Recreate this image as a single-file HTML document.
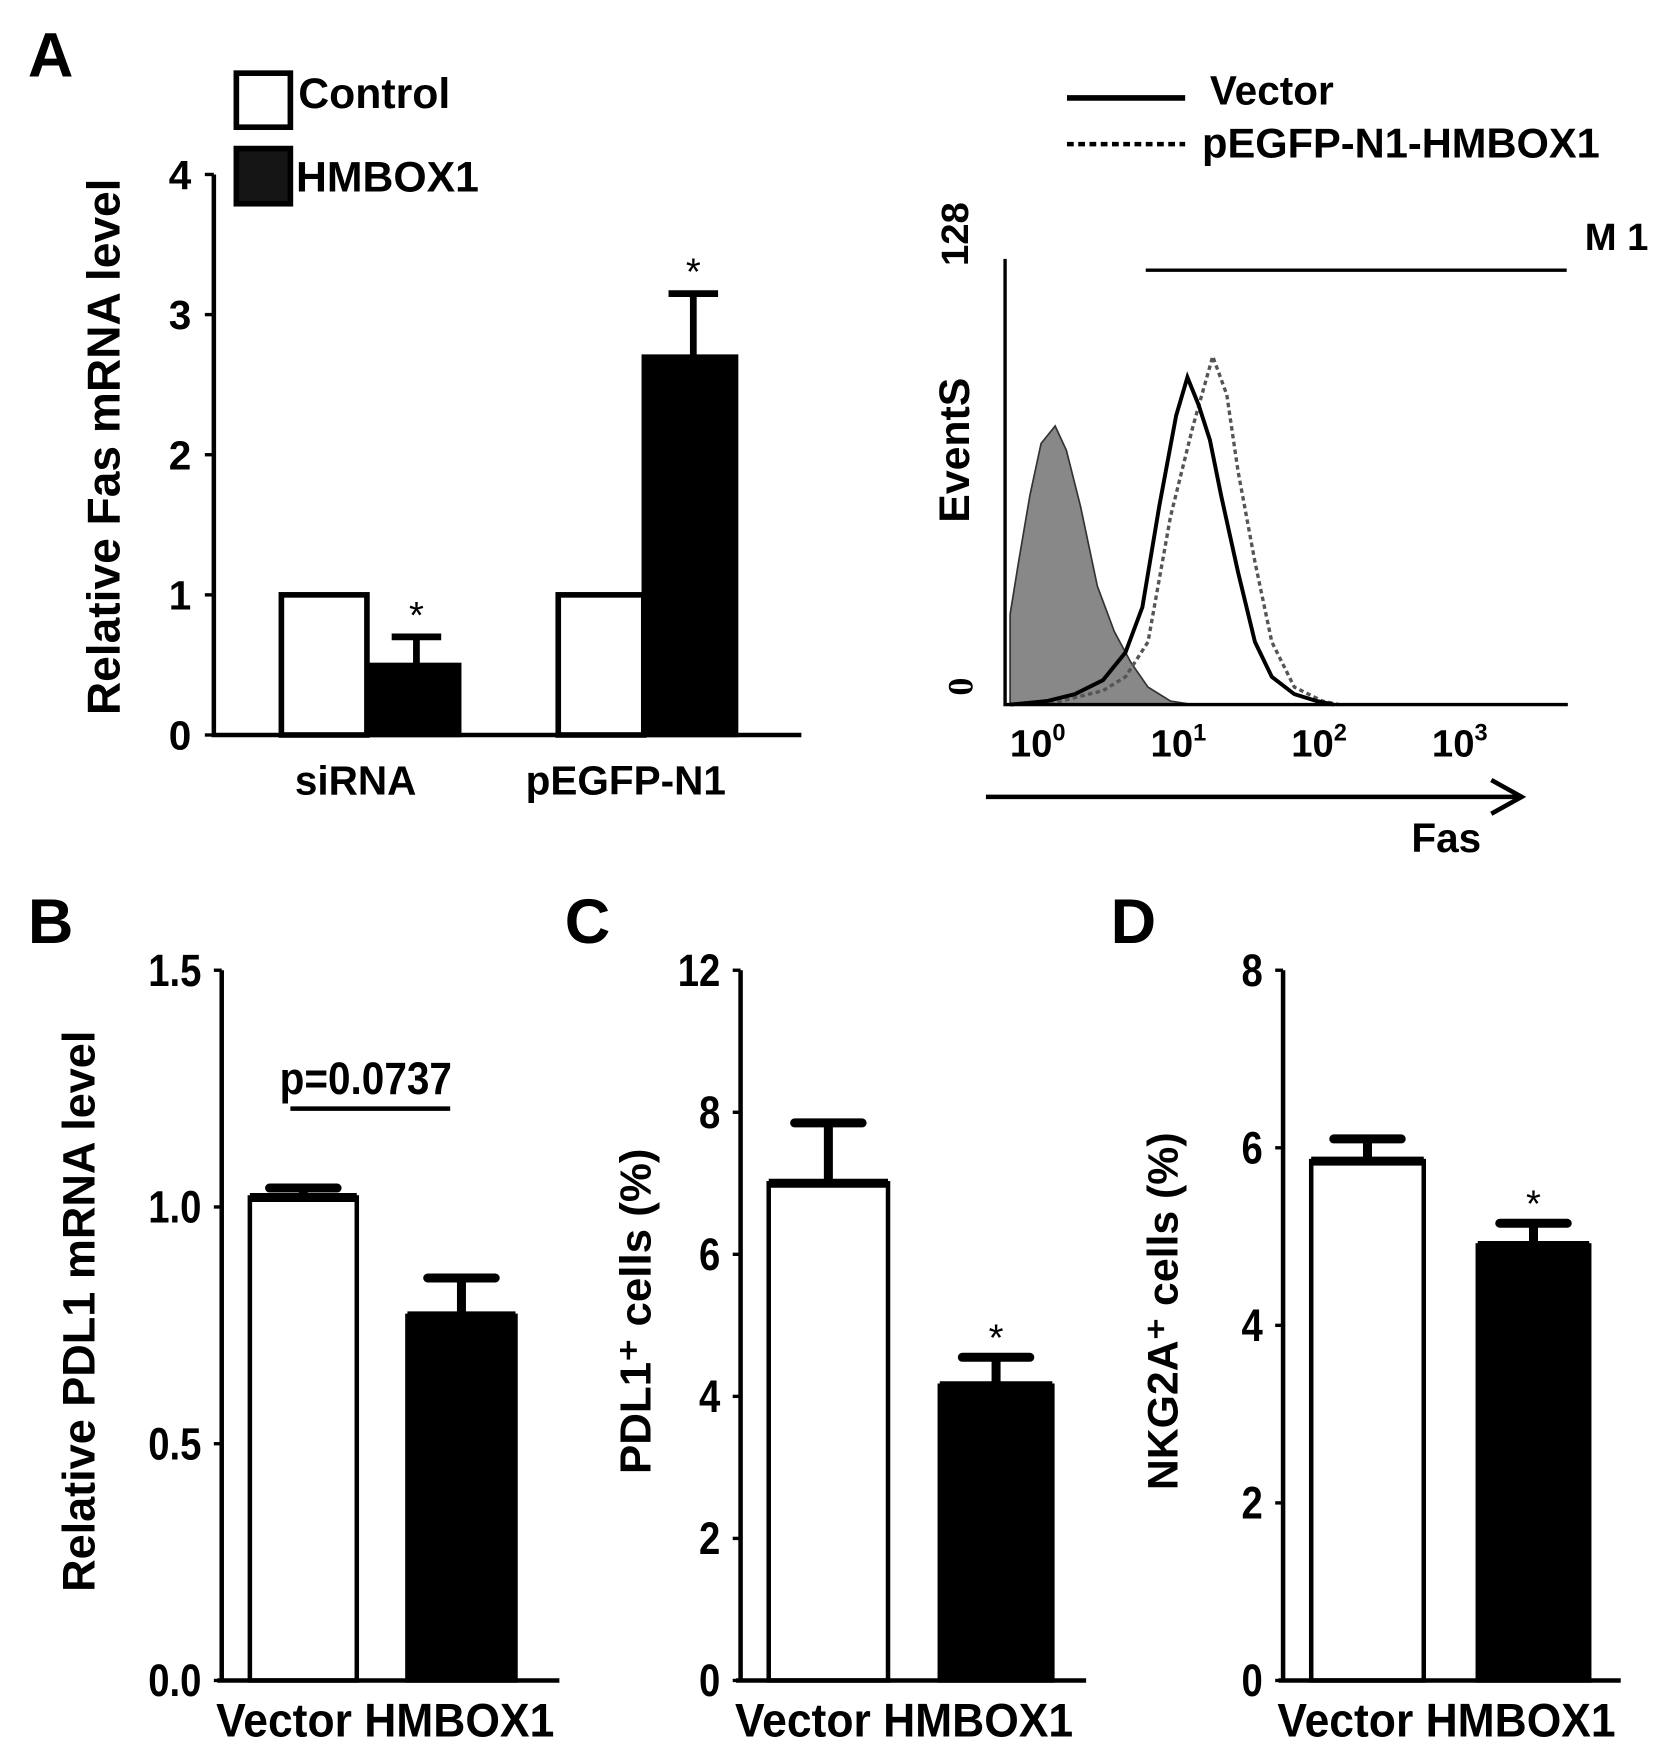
<!DOCTYPE html>
<html><head><meta charset="utf-8"><style>
html,body{margin:0;padding:0;background:#fff;}
svg{display:block;font-family:"Liberation Sans",Arial,sans-serif;font-weight:bold;}
</style></head><body>
<svg id="fig" width="1677" height="1757" viewBox="0 0 1490 1561" preserveAspectRatio="none" xmlns="http://www.w3.org/2000/svg">
<g id="panelA"></g>
<g id="flow"></g>
<g id="panelB"></g>
<g id="panelC"></g>
<g id="panelD"></g>
</svg>
<script>
// Panel A data
const aGroups = ["siRNA", "pEGFP-N1"];
const aControl = [1, 1];
const aHmbox = [0.5, 2.7];
const aHmboxErr = [0.7, 3.15];
const aTicks = [0, 1, 2, 3, 4];
// Flow histogram data (x in log10 decades, y in events)
const grayX = [-0.26,-0.2,-0.12,-0.04,0.06,0.14,0.24,0.36,0.48,0.6,0.72,0.88,1.04];
const grayY = [26,41,60,75,80,73,57,34,21,12,5,1,0];
const vecX = [-0.26,0.0,0.2,0.4,0.56,0.68,0.8,0.92,1.0,1.08,1.16,1.24,1.36,1.48,1.6,1.76,1.92,2.04];
const vecY = [0,1,3,7,15,28,57,83,94,86,76,60,38,18,8,3,1,0];
const hmX = [-0.26,0.1,0.4,0.56,0.72,0.88,1.04,1.18,1.28,1.36,1.48,1.6,1.76,1.96,2.08];
const hmY = [0,1,4,8,18,54,80,100,89,67,41,18,5,1,0];
const flowTicks = [0, 1, 2, 3];
// Panel B/C/D data
const bCats = ["Vector", "HMBOX1"];
const bVals = [1.02, 0.77];
const bErr = [1.04, 0.85];
const bTicks = ["0.0", "0.5", "1.0", "1.5"];
const cVals = [7.0, 4.15];
const cErr = [7.85, 4.55];
const cTicks = ["0", "2", "4", "6", "8", "12"];
const dVals = [5.85, 4.9];
const dErr = [6.1, 5.15];
const dTicks = ["0", "2", "4", "6", "8"];

const NS = "http://www.w3.org/2000/svg";
function mk(parent, tag, attrs, text) {
  const e = document.createElementNS(NS, tag);
  for (const k in attrs) e.setAttribute(k, attrs[k]);
  if (text !== undefined) e.textContent = text;
  parent.appendChild(e);
  return e;
}

// ---------- Panel A bar ----------
(function () {
  const g = document.getElementById('panelA');
  const x0 = 190, y0 = 653, yTop = 155, xEnd = 712;
  const ys = v => y0 - v / 4 * (y0 - yTop);
  let t = mk(g, 'text', {x: 45, y: 68, 'font-size': 56, 'text-anchor': 'middle'}, 'A');
  
  
  let ax = mk(g, 'path', {d: `M${x0} ${yTop}V${y0}H${xEnd}`, stroke: '#000', 'stroke-width': 4, fill: 'none'});
  
  
  aTicks.forEach(v => {
    mk(g, 'line', {x1: x0 - 8, x2: x0, y1: ys(v), y2: ys(v), stroke: '#000', 'stroke-width': 3});
    const tl = mk(g, 'text', {x: 170, y: ys(v) + 13, 'font-size': 36, 'text-anchor': 'end'}, v);
    
    
  });
  const yl = mk(g, 'text', {x: 0, y: 0, 'font-size': 41, 'text-anchor': 'middle', transform: `translate(106 397) rotate(-90)`}, 'Relative Fas mRNA level');
  
  
  const groupLeft = [250, 496];
  aGroups.forEach((name, i) => {
    const L = groupLeft[i], w = 76;
    const r1 = mk(g, 'rect', {x: L, y: ys(aControl[i]), width: w, height: y0 - ys(aControl[i]), fill: '#fff', stroke: '#000', 'stroke-width': 5});
    
    
    const ex = L + w + w / 2 + 6;
    const el = mk(g, 'path', {d: `M${ex} ${ys(aHmbox[i])}V${ys(aHmboxErr[i])}M${ex - 22} ${ys(aHmboxErr[i])}H${ex + 22}`, stroke: '#000', 'stroke-width': 6, fill: 'none'});
    
    
    const r2 = mk(g, 'rect', {x: L + w, y: ys(aHmbox[i]), width: 82, height: y0 - ys(aHmbox[i]), fill: '#000', stroke: '#000', 'stroke-width': 4});
    
    
    const st = mk(g, 'text', {x: ex, y: ys(aHmboxErr[i]) - 8, 'font-size': 34, 'text-anchor': 'middle', 'font-weight': 'normal'}, '*');
    
    
    const xl = mk(g, 'text', {x: L + 66 - (i ? 6 : 0), y: 706, 'font-size': 36, 'text-anchor': 'middle'}, name);
    
    
  });
  // legend
  const l1 = mk(g, 'rect', {x: 210, y: 65, width: 48, height: 48, fill: '#fff', stroke: '#000', 'stroke-width': 5});
  
  
  const l2 = mk(g, 'rect', {x: 210, y: 132, width: 48, height: 49, fill: '#151515', stroke: '#000', 'stroke-width': 5});
  
  
  const lt1 = mk(g, 'text', {x: 265, y: 96, 'font-size': 38}, 'Control');
  
  
  const lt2 = mk(g, 'text', {x: 263, y: 170, 'font-size': 38}, 'HMBOX1');
  
  
})();

// ---------- Flow histogram ----------
(function () {
  const g = document.getElementById('flow');
  const x0 = 893, yB = 626, yT = 230, xEnd = 1393;
  const xs = d => 930 + d * 125;
  const ys = c => yB - c / 128 * (yB - yT);
  function pts(X, Y) { return X.map((x, i) => `${xs(x).toFixed(1)},${ys(Y[i]).toFixed(1)}`).join(' '); }
  const gp = mk(g, 'polygon', {points: `${xs(grayX[0])},${yB} ` + pts(grayX, grayY) + ` ${xs(grayX[grayX.length - 1])},${yB}`, fill: '#888', stroke: '#333', 'stroke-width': 1.5});
  
  
  const hp = mk(g, 'polyline', {points: pts(hmX, hmY), fill: 'none', stroke: '#555', 'stroke-width': 3, 'stroke-dasharray': '4 3'});
  
  
  const vp = mk(g, 'polyline', {points: pts(vecX, vecY), fill: 'none', stroke: '#000', 'stroke-width': 3.5});
  
  
  const ax = mk(g, 'path', {d: `M${x0} ${yT}V${yB}H${xEnd}`, stroke: '#000', 'stroke-width': 3, fill: 'none'});
  
  
  flowTicks.forEach(d => {
    const t = mk(g, 'text', {x: xs(d) - 8, y: 672, 'font-size': 34, 'text-anchor': 'middle'});
    
    
    mk(t, 'tspan', {}, '10');
    mk(t, 'tspan', {dy: -14, 'font-size': 21}, String(d));
  });
  const ar = mk(g, 'path', {d: `M876 708H1350M1325 693L1352 708L1325 723`, stroke: '#000', 'stroke-width': 4, fill: 'none'});
  
  
  const xt = mk(g, 'text', {x: 1285, y: 757, 'font-size': 36, 'text-anchor': 'middle'}, 'Fas');
  
  
  const yt = mk(g, 'text', {x: 0, y: 0, 'font-size': 38, 'text-anchor': 'middle', transform: 'translate(861 400) rotate(-90)'}, 'EventS');
  
  
  const t128 = mk(g, 'text', {x: 0, y: 0, 'font-size': 34, 'text-anchor': 'middle', transform: 'translate(860 208) rotate(-90)'}, '128');
  
  
  const t0 = mk(g, 'text', {x: 0, y: 0, 'font-size': 32, 'text-anchor': 'middle', 'font-family': 'Liberation Serif, serif', transform: 'translate(864 610) rotate(-90)'}, '0');
  
  
  const m1 = mk(g, 'line', {x1: 1018, x2: 1392, y1: 240, y2: 240, stroke: '#000', 'stroke-width': 3});
  
  
  const m1t = mk(g, 'text', {x: 1408, y: 222, 'font-size': 34}, 'M 1');
  
  
  const ls = mk(g, 'line', {x1: 948, x2: 1053, y1: 87, y2: 87, stroke: '#000', 'stroke-width': 5});
  
  
  const ld = mk(g, 'line', {x1: 948, x2: 1053, y1: 128, y2: 128, stroke: '#000', 'stroke-width': 4, 'stroke-dasharray': '6 4'});
  
  
  const lt1 = mk(g, 'text', {x: 1075, y: 93, 'font-size': 36}, 'Vector');
  
  
  const lt2 = mk(g, 'text', {x: 1068, y: 140, 'font-size': 37}, 'pEGFP-N1-HMBOX1');
  
  
})();

// ---------- Panels B, C, D ----------
function smallPanel(id, letter, lx, axX, vals, errs, ticks, yMax, ylabel, ylx, ylFs, bars, xEnd, star, extra) {
  const g = document.getElementById(id);
  const yB = 1493, yT = 862;
  const n = ticks.length - 1;
  const ys = v => yB - v / yMax * (yB - yT);
  const lt = mk(g, 'text', {x: lx, y: 838, 'font-size': 56, 'text-anchor': 'middle'}, letter);
  
  
  ticks.forEach((lab, i) => {
    const y = yB - i / n * (yB - yT);
    mk(g, 'line', {x1: axX - 7, x2: axX, y1: y, y2: y, stroke: '#000', 'stroke-width': 3});
    const t = mk(g, 'text', {x: axX - 18, y: y + 14, 'font-size': 40, 'text-anchor': 'end', transform: `translate(${(axX - 18) * (1 - 0.85)} 0) scale(0.85 1)`}, lab);
    
    
  });
  const yl = mk(g, 'text', {x: 0, y: 0, 'font-size': ylFs, 'text-anchor': 'middle', transform: `translate(${ylx} 1165) rotate(-90)`}, ylabel);
  
  
  bCats.forEach((c, i) => {
    const [L, R] = bars[i];
    const cx = (L + R) / 2;
    const e = mk(g, 'path', {d: `M${cx} ${ys(vals[i])}V${ys(errs[i])}M${cx - 30} ${ys(errs[i])}H${cx + 30}`, stroke: '#000', 'stroke-width': 8, fill: 'none', 'stroke-linecap': 'round'});
    
    
    const r = mk(g, 'rect', {x: L, y: ys(vals[i]), width: R - L, height: yB - ys(vals[i]), fill: i ? '#000' : '#fff', stroke: '#000', 'stroke-width': 4});
    
    
    mk(g, 'line', {x1: L, x2: R, y1: ys(vals[i]), y2: ys(vals[i]), stroke: '#000', 'stroke-width': 8});
    if (star && i === 1) {
      const s = mk(g, 'text', {x: cx, y: ys(errs[i]) - 6, 'font-size': 34, 'text-anchor': 'middle', 'font-weight': 'normal'}, '*');
      
      
    }
  });
  const ax = mk(g, 'path', {d: `M${axX} ${yT}V${yB}M${axX - 4} ${yB}H${xEnd}`, stroke: '#000', 'stroke-width': 4, fill: 'none'});
  
  
  const xl = mk(g, 'text', {x: axX - 5, y: 1543, 'font-size': 42, transform: `translate(${(axX - 5) * 0.06} 0) scale(0.94 1)`}, 'Vector HMBOX1');
  
  
  if (extra) extra(g);
}
smallPanel('panelB', 'B', 45, 197, bVals, bErr, bTicks, 1.5, 'Relative PDL1 mRNA level', 84, 40, [[222, 317], [362, 458]], 497, false, g => {
  const l = mk(g, 'line', {x1: 258, x2: 400, y1: 985, y2: 985, stroke: '#000', 'stroke-width': 4});
  
  
  const t = mk(g, 'text', {x: 325, y: 972, 'font-size': 40, 'text-anchor': 'middle', transform: 'translate(32.5 0) scale(0.9 1)'}, 'p=0.0737');
  
  
});
smallPanel('panelC', 'C', 522, 658, cVals, cErr, cTicks, 10, 'PDL1⁺ cells (%)', 578, 39, [[683, 789], [835, 935]], 965, true);
smallPanel('panelD', 'D', 1007, 1140, dVals, dErr, dTicks, 8, 'NKG2A⁺ cells (%)', 1046, 38, [[1165, 1265], [1313, 1412]], 1440, true);
</script>
</body></html>
